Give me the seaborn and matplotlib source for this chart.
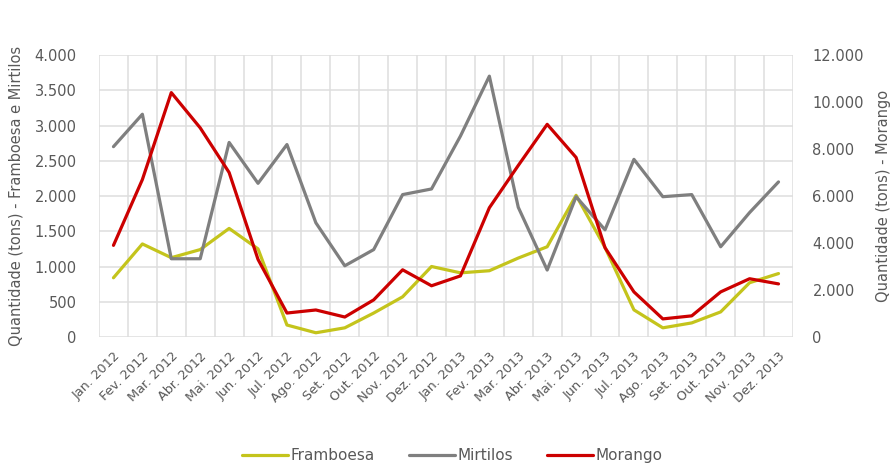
import matplotlib
matplotlib.use("Agg")
import matplotlib.pyplot as plt
from matplotlib.ticker import FuncFormatter, MultipleLocator
from matplotlib.lines import Line2D
import seaborn as sns
import pandas as pd

months = ["Jan. 2012", "Fev. 2012", "Mar. 2012", "Abr. 2012", "Mai. 2012", "Jun. 2012",
          "Jul. 2012", "Ago. 2012", "Set. 2012", "Out. 2012", "Nov. 2012", "Dez. 2012",
          "Jan. 2013", "Fev. 2013", "Mar. 2013", "Abr. 2013", "Mai. 2013", "Jun. 2013",
          "Jul. 2013", "Ago. 2013", "Set. 2013", "Out. 2013", "Nov. 2013", "Dez. 2013"]

framboesa = [840, 1320, 1125, 1240, 1540, 1250, 170, 60, 130, 340, 570, 1000,
             910, 940, 1120, 1280, 2010, 1270, 385, 130, 200, 356, 770, 900]
mirtilos = [2700, 3160, 1110, 1110, 2760, 2180, 2730, 1620, 1010, 1240, 2020, 2100,
            2850, 3700, 1840, 950, 1990, 1520, 2520, 1990, 2020, 1280, 1765, 2200]
morango = [3900, 6700, 10400, 8900, 7000, 3300, 1020, 1150, 850, 1580, 2860, 2180,
           2600, 5500, 7300, 9050, 7640, 3800, 1920, 770, 900, 1920, 2480, 2260]

c_fram = "#c4c41c"
c_mirt = "#7f7f7f"
c_mor = "#cc0000"
txt = "#595959"
grid_c = "#dedede"

df = pd.DataFrame({"mes": months, "Framboesa": framboesa,
                   "Mirtilos": mirtilos, "Morango": morango})

sns.set_theme(style="white")
plt.rcParams["font.family"] = ["DejaVu Sans"]

fig = plt.figure(figsize=(8.96, 4.71), dpi=100)
ax = fig.add_axes([0.1105, 0.2845, 0.7745, 0.5987])
ax2 = ax.twinx()

sns.lineplot(data=df, x="mes", y="Framboesa", ax=ax, color=c_fram, lw=2.3,
             sort=False, legend=False)
sns.lineplot(data=df, x="mes", y="Mirtilos", ax=ax, color=c_mirt, lw=2.3,
             sort=False, legend=False)
sns.lineplot(data=df, x="mes", y="Morango", ax=ax2, color=c_mor, lw=2.3,
             sort=False, legend=False)

n = len(months)
ax.set_xlim(-0.5, n - 0.5)
ax.set_ylim(0, 4000)
ax2.set_ylim(0, 12000)
ax.yaxis.set_major_locator(MultipleLocator(500))
ax2.yaxis.set_major_locator(MultipleLocator(2000))

def dotted(v, pos):
    return f"{int(round(v)):,}".replace(",", ".")

ax.yaxis.set_major_formatter(FuncFormatter(dotted))
ax2.yaxis.set_major_formatter(FuncFormatter(dotted))

# grid: horizontal from the left scale, vertical at month boundaries
for yv in range(0, 4001, 500):
    ax.axhline(yv, color=grid_c, lw=1.1, zorder=0)
for xv in range(n + 1):
    ax.axvline(xv - 0.5, color=grid_c, lw=1.1, zorder=0)

for a in (ax, ax2):
    for s in a.spines.values():
        s.set_visible(False)
    a.tick_params(length=0, colors=txt)
    a.set_xlabel("")

ax.set_xticks(range(n))
ax.set_xticklabels(months, rotation=45, ha="right", rotation_mode="anchor",
                   fontsize=9.3, color=txt)
ax.tick_params(axis="x", pad=9)
ax.tick_params(axis="y", labelsize=10.5, pad=16)
ax2.tick_params(axis="y", labelsize=10.5, pad=14)

ax.set_ylabel("Quantidade (tons) - Framboesa e Mirtilos", fontsize=10.5,
              color=txt, labelpad=8)
ax2.set_ylabel("Quantidade (tons) - Morango", fontsize=10.5, color=txt,
               rotation=90, labelpad=9)

handles = [Line2D([], [], color=c_fram, lw=2.3),
           Line2D([], [], color=c_mirt, lw=2.3),
           Line2D([], [], color=c_mor, lw=2.3)]
leg = fig.legend(handles, ["Framboesa", "Mirtilos", "Morango"], loc="center",
                 bbox_to_anchor=(0.505, 0.033), ncol=3, frameon=False,
                 fontsize=11, handlelength=3.0, handletextpad=0.2,
                 columnspacing=2.2)
for t in leg.get_texts():
    t.set_color(txt)

fig.savefig("out.png", dpi=100)
